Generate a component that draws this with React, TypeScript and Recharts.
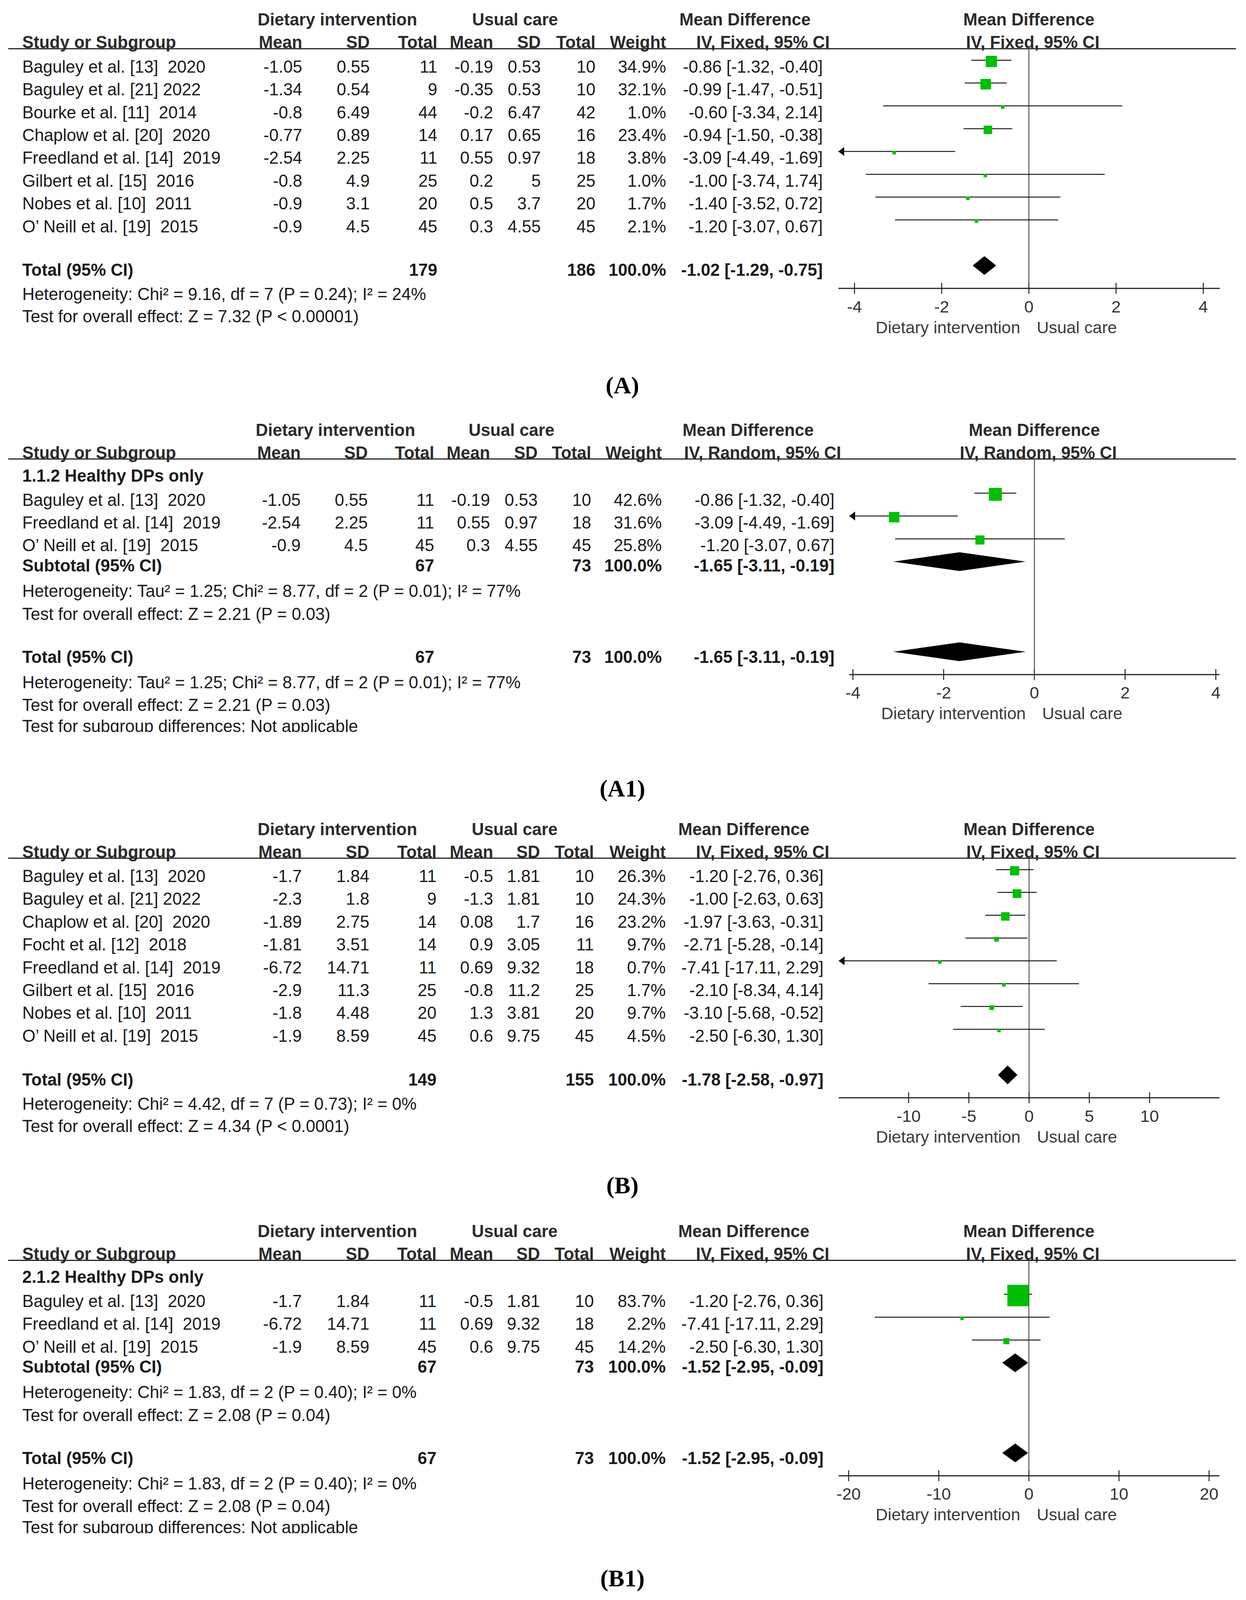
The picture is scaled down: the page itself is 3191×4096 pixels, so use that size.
import React from 'react';
import { ScatterChart, Scatter, XAxis, YAxis, ReferenceLine } from 'recharts';

// ======================= DATA =======================
// Panel A – IV, Fixed (all studies)
const aStudies = ['Baguley et al. [13]  2020', 'Baguley et al. [21] 2022', 'Bourke et al. [11]  2014', 'Chaplow et al. [20]  2020', 'Freedland et al. [14]  2019', 'Gilbert et al. [15]  2016', 'Nobes et al. [10]  2011', 'O’ Neill et al. [19]  2015'];
const aDietMean = [-1.05, -1.34, -0.8, -0.77, -2.54, -0.8, -0.9, -0.9];
const aDietSD = [0.55, 0.54, 6.49, 0.89, 2.25, 4.9, 3.1, 4.5];
const aDietN = [11, 9, 44, 14, 11, 25, 20, 45];
const aUsualMean = [-0.19, -0.35, -0.2, 0.17, 0.55, 0.2, 0.5, 0.3];
const aUsualSD = [0.53, 0.53, 6.47, 0.65, 0.97, 5, 3.7, 4.55];
const aUsualN = [10, 10, 42, 16, 18, 25, 20, 45];
const aWeight = [34.9, 32.1, 1.0, 23.4, 3.8, 1.0, 1.7, 2.1];
const aMD = [-0.86, -0.99, -0.6, -0.94, -3.09, -1.0, -1.4, -1.2];
const aLow = [-1.32, -1.47, -3.34, -1.5, -4.49, -3.74, -3.52, -3.07];
const aHigh = [-0.4, -0.51, 2.14, -0.38, -1.69, 1.74, 0.72, 0.67];
const aTotalN = [179, 186];
const aTotalEffect = [-1.02, -1.29, -0.75];
const aStats = ['Heterogeneity: Chi² = 9.16, df = 7 (P = 0.24); I² = 24%', 'Test for overall effect: Z = 7.32 (P < 0.00001)'];
const aTicks = [-4, -2, 0, 2, 4];

// Panel A1 – IV, Random (healthy DPs only)
const a1Studies = ['Baguley et al. [13]  2020', 'Freedland et al. [14]  2019', 'O’ Neill et al. [19]  2015'];
const a1DietMean = [-1.05, -2.54, -0.9];
const a1DietSD = [0.55, 2.25, 4.5];
const a1DietN = [11, 11, 45];
const a1UsualMean = [-0.19, 0.55, 0.3];
const a1UsualSD = [0.53, 0.97, 4.55];
const a1UsualN = [10, 18, 45];
const a1Weight = [42.6, 31.6, 25.8];
const a1MD = [-0.86, -3.09, -1.2];
const a1Low = [-1.32, -4.49, -3.07];
const a1High = [-0.4, -1.69, 0.67];
const a1TotalN = [67, 73];
const a1TotalEffect = [-1.65, -3.11, -0.19];
const a1Stats = ['Heterogeneity: Tau² = 1.25; Chi² = 8.77, df = 2 (P = 0.01); I² = 77%', 'Test for overall effect: Z = 2.21 (P = 0.03)'];
const a1Ticks = [-4, -2, 0, 2, 4];

// Panel B – IV, Fixed (all studies)
const bStudies = ['Baguley et al. [13]  2020', 'Baguley et al. [21] 2022', 'Chaplow et al. [20]  2020', 'Focht et al. [12]  2018', 'Freedland et al. [14]  2019', 'Gilbert et al. [15]  2016', 'Nobes et al. [10]  2011', 'O’ Neill et al. [19]  2015'];
const bDietMean = [-1.7, -2.3, -1.89, -1.81, -6.72, -2.9, -1.8, -1.9];
const bDietSD = [1.84, 1.8, 2.75, 3.51, 14.71, 11.3, 4.48, 8.59];
const bDietN = [11, 9, 14, 14, 11, 25, 20, 45];
const bUsualMean = [-0.5, -1.3, 0.08, 0.9, 0.69, -0.8, 1.3, 0.6];
const bUsualSD = [1.81, 1.81, 1.7, 3.05, 9.32, 11.2, 3.81, 9.75];
const bUsualN = [10, 10, 16, 11, 18, 25, 20, 45];
const bWeight = [26.3, 24.3, 23.2, 9.7, 0.7, 1.7, 9.7, 4.5];
const bMD = [-1.2, -1.0, -1.97, -2.71, -7.41, -2.1, -3.1, -2.5];
const bLow = [-2.76, -2.63, -3.63, -5.28, -17.11, -8.34, -5.68, -6.3];
const bHigh = [0.36, 0.63, -0.31, -0.14, 2.29, 4.14, -0.52, 1.3];
const bTotalN = [149, 155];
const bTotalEffect = [-1.78, -2.58, -0.97];
const bStats = ['Heterogeneity: Chi² = 4.42, df = 7 (P = 0.73); I² = 0%', 'Test for overall effect: Z = 4.34 (P < 0.0001)'];
const bTicks = [-10, -5, 0, 5, 10];

// Panel B1 – IV, Fixed (healthy DPs only)
const b1Studies = ['Baguley et al. [13]  2020', 'Freedland et al. [14]  2019', 'O’ Neill et al. [19]  2015'];
const b1DietMean = [-1.7, -6.72, -1.9];
const b1DietSD = [1.84, 14.71, 8.59];
const b1DietN = [11, 11, 45];
const b1UsualMean = [-0.5, 0.69, 0.6];
const b1UsualSD = [1.81, 9.32, 9.75];
const b1UsualN = [10, 18, 45];
const b1Weight = [83.7, 2.2, 14.2];
const b1MD = [-1.2, -7.41, -2.5];
const b1Low = [-2.76, -17.11, -6.3];
const b1High = [0.36, 2.29, 1.3];
const b1TotalN = [67, 73];
const b1TotalEffect = [-1.52, -2.95, -0.09];
const b1Stats = ['Heterogeneity: Chi² = 1.83, df = 2 (P = 0.40); I² = 0%', 'Test for overall effect: Z = 2.08 (P = 0.04)'];
const b1Ticks = [-20, -10, 0, 10, 20];

// ======================= STYLE / LAYOUT =======================
const FONT = '"Liberation Sans", Arial, Helvetica, sans-serif';
const SERIF = '"Liberation Serif", "Times New Roman", serif';
const FS = 43.5;
const INK = '#1a1a1a';
const HEAD = '#2b2b2b';
const GREEN = '#00bf00';
const ROW = 58.4;
const PAGE_W = 3191;
const PAGE_H = 4096;

type Study = {
  name: string; dm: number; dsd: number; dn: number; um: number; usd: number; un: number;
  w: number; md: number; lo: number; hi: number;
};

const zip = (names: string[], dm: number[], dsd: number[], dn: number[], um: number[], usd: number[], un: number[], w: number[], md: number[], lo: number[], hi: number[]): Study[] =>
  names.map((name, i) => ({ name, dm: dm[i], dsd: dsd[i], dn: dn[i], um: um[i], usd: usd[i], un: un[i], w: w[i], md: md[i], lo: lo[i], hi: hi[i] }));

type PanelCfg = {
  id: string;
  kind: 'overall' | 'subgroup';
  studies: Study[];
  subgroup?: string;
  totalN: number[];
  totalEffect: number[];
  stats: string[];
  method: string;
  ticks: number[];
  xDomain: [number, number];
  plotLeft: number;
  plotRight: number;
  underline: number;
  cols: number[];
  h1: number[];
  h2ci: number;
  label: string;
  labelY: number;
};

const colsA = [774, 947, 1120, 1263, 1385, 1525, 1706, 2107];
const colsA1 = [770, 942, 1112, 1255, 1377, 1514, 1695, 2137];
const colsB = [773, 946, 1118, 1263, 1383, 1521, 1705, 2109];

const panels: PanelCfg[] = [
  {
    id: 'A', kind: 'overall',
    studies: zip(aStudies, aDietMean, aDietSD, aDietN, aUsualMean, aUsualSD, aUsualN, aWeight, aMD, aLow, aHigh),
    totalN: aTotalN, totalEffect: aTotalEffect, stats: aStats, method: 'IV, Fixed, 95% CI', ticks: aTicks,
    xDomain: [-4.37, 4.38], plotLeft: 2147, plotRight: 3124, underline: 124.7,
    cols: colsA, h1: [864, 1319, 1908], h2ci: 1954, label: '(A)', labelY: 985,
  },
  {
    id: 'A1', kind: 'subgroup', subgroup: '1.1.2 Healthy DPs only',
    studies: zip(a1Studies, a1DietMean, a1DietSD, a1DietN, a1UsualMean, a1UsualSD, a1UsualN, a1Weight, a1MD, a1Low, a1High),
    totalN: a1TotalN, totalEffect: a1TotalEffect, stats: a1Stats, method: 'IV, Random, 95% CI', ticks: a1Ticks,
    xDomain: [-4.08, 4.08], plotLeft: 2175, plotRight: 3123, underline: 1175,
    cols: colsA1, h1: [859, 1310, 1916], h2ci: 1953, label: '(A1)', labelY: 2017,
  },
  {
    id: 'B', kind: 'overall',
    studies: zip(bStudies, bDietMean, bDietSD, bDietN, bUsualMean, bUsualSD, bUsualN, bWeight, bMD, bLow, bHigh),
    totalN: bTotalN, totalEffect: bTotalEffect, stats: bStats, method: 'IV, Fixed, 95% CI', ticks: bTicks,
    xDomain: [-15.8, 15.8], plotLeft: 2148, plotRight: 3123, underline: 2197,
    cols: colsB, h1: [864, 1318, 1905], h2ci: 1953, label: '(B)', labelY: 3033,
  },
  {
    id: 'B1', kind: 'subgroup', subgroup: '2.1.2 Healthy DPs only',
    studies: zip(b1Studies, b1DietMean, b1DietSD, b1DietN, b1UsualMean, b1UsualSD, b1UsualN, b1Weight, b1MD, b1Low, b1High),
    totalN: b1TotalN, totalEffect: b1TotalEffect, stats: b1Stats, method: 'IV, Fixed, 95% CI', ticks: b1Ticks,
    xDomain: [-21.1, 21.15], plotLeft: 2148, plotRight: 3123, underline: 3226.4,
    cols: colsB, h1: [864, 1318, 1905], h2ci: 1953, label: '(B1)', labelY: 4039,
  },
];

// ======================= HELPERS =======================
const f2 = (v: number) => v.toFixed(2);
const ciText = (e: number[]) => `${f2(e[0])} [${f2(e[1])}, ${f2(e[2])}]`;
const wText = (w: number) => `${w.toFixed(1)}%`;
const boxSide = (w: number) => Math.max(9, 2.8 * Math.sqrt(w) + 0.35 * w);

const T = ({ x, y, anchor = 'start', bold = false, fill = INK, size = FS, family = FONT, children }: any) => (
  <text
    x={x}
    y={y + size * 0.358}
    textAnchor={anchor}
    fontWeight={bold ? 'bold' : 'normal'}
    fontSize={size}
    fontFamily={family}
    fill={fill}
    style={{ whiteSpace: 'pre' }}
  >
    {children}
  </text>
);

const zeroPx = (p: PanelCfg) => p.plotLeft + ((0 - p.xDomain[0]) / (p.xDomain[1] - p.xDomain[0])) * (p.plotRight - p.plotLeft);

// ======================= TABLE TEXT =======================
function PanelText({ p }: { p: PanelCfg }) {
  const u = p.underline;
  const c = p.cols;
  const z = zeroPx(p);
  const sub = p.kind === 'subgroup';
  const rowY = (k: number) => u + (sub ? 104 : 45.5) + k * ROW;
  const summaryRow = (y: number, name: string) => (
    <g>
      <T x={57} y={y} bold>{name}</T>
      <T x={c[2]} y={y} anchor="end" bold>{String(p.totalN[0])}</T>
      <T x={c[5]} y={y} anchor="end" bold>{String(p.totalN[1])}</T>
      <T x={c[6]} y={y} anchor="end" bold>100.0%</T>
      <T x={c[7]} y={y} anchor="end" bold>{ciText(p.totalEffect)}</T>
    </g>
  );
  const subdiffY = u + 683;
  return (
    <g>
      {/* header row 1 */}
      <T x={p.h1[0]} y={u - 75} anchor="middle" bold fill={HEAD}>Dietary intervention</T>
      <T x={p.h1[1]} y={u - 75} anchor="middle" bold fill={HEAD}>Usual care</T>
      <T x={p.h1[2]} y={u - 75} anchor="middle" bold fill={HEAD}>Mean Difference</T>
      <T x={z} y={u - 75} anchor="middle" bold fill={HEAD}>Mean Difference</T>
      {/* header row 2 */}
      <T x={57} y={u - 17} bold fill={HEAD}>Study or Subgroup</T>
      <T x={c[0]} y={u - 17} anchor="end" bold fill={HEAD}>Mean</T>
      <T x={c[1]} y={u - 17} anchor="end" bold fill={HEAD}>SD</T>
      <T x={c[2]} y={u - 17} anchor="end" bold fill={HEAD}>Total</T>
      <T x={c[3]} y={u - 17} anchor="end" bold fill={HEAD}>Mean</T>
      <T x={c[4]} y={u - 17} anchor="end" bold fill={HEAD}>SD</T>
      <T x={c[5]} y={u - 17} anchor="end" bold fill={HEAD}>Total</T>
      <T x={c[6]} y={u - 17} anchor="end" bold fill={HEAD}>Weight</T>
      <T x={p.h2ci} y={u - 17} anchor="middle" bold fill={HEAD}>{p.method}</T>
      <T x={z + 10} y={u - 17} anchor="middle" bold fill={HEAD}>{p.method}</T>
      <line x1={21} x2={3165} y1={u} y2={u} stroke="#222" strokeWidth={3} />

      {sub && <T x={57} y={u + 42} bold>{p.subgroup}</T>}

      {p.studies.map((s, k) => (
        <g key={k}>
          <T x={57} y={rowY(k)}>{s.name}</T>
          <T x={c[0]} y={rowY(k)} anchor="end">{String(s.dm)}</T>
          <T x={c[1]} y={rowY(k)} anchor="end">{String(s.dsd)}</T>
          <T x={c[2]} y={rowY(k)} anchor="end">{String(s.dn)}</T>
          <T x={c[3]} y={rowY(k)} anchor="end">{String(s.um)}</T>
          <T x={c[4]} y={rowY(k)} anchor="end">{String(s.usd)}</T>
          <T x={c[5]} y={rowY(k)} anchor="end">{String(s.un)}</T>
          <T x={c[6]} y={rowY(k)} anchor="end">{wText(s.w)}</T>
          <T x={c[7]} y={rowY(k)} anchor="end">{ciText([s.md, s.lo, s.hi])}</T>
        </g>
      ))}

      {sub ? (
        <g>
          {summaryRow(u + 272.5, 'Subtotal (95% CI)')}
          <T x={57} y={u + 337.5}>{p.stats[0]}</T>
          <T x={57} y={u + 396}>{p.stats[1]}</T>
          {summaryRow(u + 506, 'Total (95% CI)')}
          <T x={57} y={u + 571}>{p.stats[0]}</T>
          <T x={57} y={u + 629}>{p.stats[1]}</T>
          <clipPath id={`clip-${p.id}`}>
            <rect x={0} y={subdiffY - 45} width={1400} height={61} />
          </clipPath>
          <g clipPath={`url(#clip-${p.id})`}>
            <T x={57} y={subdiffY}>Test for subgroup differences: Not applicable</T>
          </g>
        </g>
      ) : (
        <g>
          {summaryRow(u + 566, 'Total (95% CI)')}
          <T x={57} y={u + 628}>{p.stats[0]}</T>
          <T x={57} y={u + 685}>{p.stats[1]}</T>
        </g>
      )}

      <T x={1594} y={p.labelY} anchor="middle" bold size={62} family={SERIF} fill="#000">{p.label}</T>
    </g>
  );
}

// ======================= FOREST PLOT (Recharts) =======================
const AxisTick = (props: any) => {
  const { x, y, payload } = props;
  return (
    <g>
      <line x1={x} x2={x} y1={y - 14} y2={y + 14} stroke="#222" strokeWidth={2.5} />
      <text x={x} y={y + 46 + 15.4} textAnchor="middle" fontSize={43} fontFamily={FONT} fill="#333">
        {payload.value}
      </text>
    </g>
  );
};

const SideLabels = (props: any) => {
  const vb = props.viewBox || {};
  const x = vb.x ?? 0;
  const bottom = (vb.y ?? 0) + (vb.height ?? 0);
  const y = bottom + 99 + 15.4;
  return (
    <g>
      <text x={x - 22} y={y} textAnchor="end" fontSize={43} fontFamily={FONT} fill="#3a3a3a">Dietary intervention</text>
      <text x={x + 20} y={y} textAnchor="start" fontSize={43} fontFamily={FONT} fill="#3a3a3a">Usual care</text>
    </g>
  );
};

const squareShape = (props: any) => {
  const { cx, cy, payload } = props;
  const s = boxSide(payload.w);
  return <rect x={cx - s / 2} y={cy - s / 2 + 3} width={s} height={s} fill={GREEN} />;
};

const arrowShape = (props: any) => {
  const { cx, cy } = props;
  return <polygon points={`${cx},${cy} ${cx + 15},${cy - 11.5} ${cx + 15},${cy + 11.5}`} fill="#111" />;
};

const makeDiamond = (e: number[]) => (props: any) => {
  const { x1, y1, x2 } = props;
  const cx = x1 + ((e[0] - e[1]) / (e[2] - e[1])) * (x2 - x1);
  const h = 24;
  return <polygon points={`${x1},${y1} ${cx},${y1 - h} ${x2},${y1} ${cx},${y1 + h}`} fill="#000" />;
};

function Forest({ p }: { p: PanelCfg }) {
  const sub = p.kind === 'subgroup';
  const yDomain: [number, number] = sub ? [-1.5, 7.95] : [-0.5, 10];
  const W = p.plotRight - p.plotLeft;
  const plotH = (yDomain[1] - yDomain[0]) * ROW;
  const M = 60;
  const AXIS_H = 150;
  const [dmin, dmax] = p.xDomain;
  const pts = p.studies.map((s, k) => ({ x: s.md, y: k, w: s.w }));
  const arrows = p.studies
    .map((s, k) => ({ s, k }))
    .filter(({ s }) => s.lo < dmin)
    .map(({ k }) => ({ x: dmin, y: k }));
  const diamonds = sub
    ? [{ slot: 3, e: p.totalEffect }, { slot: 6.95, e: p.totalEffect }]
    : [{ slot: 9, e: p.totalEffect }];
  return (
    <div style={{ position: 'absolute', left: p.plotLeft - M, top: p.underline }}>
      <ScatterChart width={W + 2 * M} height={plotH + AXIS_H} margin={{ top: 0, right: M, bottom: 0, left: M }}>
        <XAxis
          type="number"
          dataKey="x"
          domain={p.xDomain}
          allowDataOverflow
          ticks={p.ticks}
          interval={0}
          tickSize={0}
          tickMargin={0}
          tickLine={false}
          axisLine={{ stroke: '#222', strokeWidth: 3 }}
          height={AXIS_H}
          tick={(tp: any) => <AxisTick {...tp} />}
        />
        <YAxis type="number" dataKey="y" domain={yDomain} reversed allowDataOverflow hide />
        <ReferenceLine x={0} stroke="#333" strokeWidth={2} label={(lp: any) => <SideLabels {...lp} />} />
        {p.studies.map((s, k) => (
          <ReferenceLine
            key={`ci-${k}`}
            segment={[{ x: Math.max(s.lo, dmin), y: k }, { x: Math.min(s.hi, dmax), y: k }]}
            stroke="#1c1c1c"
            strokeWidth={2.5}
          />
        ))}
        {diamonds.map((d, i) => (
          <ReferenceLine
            key={`dm-${i}`}
            segment={[{ x: d.e[1], y: d.slot }, { x: d.e[2], y: d.slot }]}
            shape={makeDiamond(d.e)}
          />
        ))}
        <Scatter data={pts} shape={squareShape} isAnimationActive={false} />
        <Scatter data={arrows} shape={arrowShape} isAnimationActive={false} />
      </ScatterChart>
    </div>
  );
}

export default function App() {
  return (
    <div style={{ position: 'absolute', left: 0, top: 0, width: PAGE_W, height: PAGE_H, background: '#fff', overflow: 'hidden' }}>
      <svg width={PAGE_W} height={PAGE_H} style={{ position: 'absolute', left: 0, top: 0 }}>
        {panels.map((p) => (
          <PanelText key={p.id} p={p} />
        ))}
      </svg>
      {panels.map((p) => (
        <Forest key={p.id} p={p} />
      ))}
    </div>
  );
}
